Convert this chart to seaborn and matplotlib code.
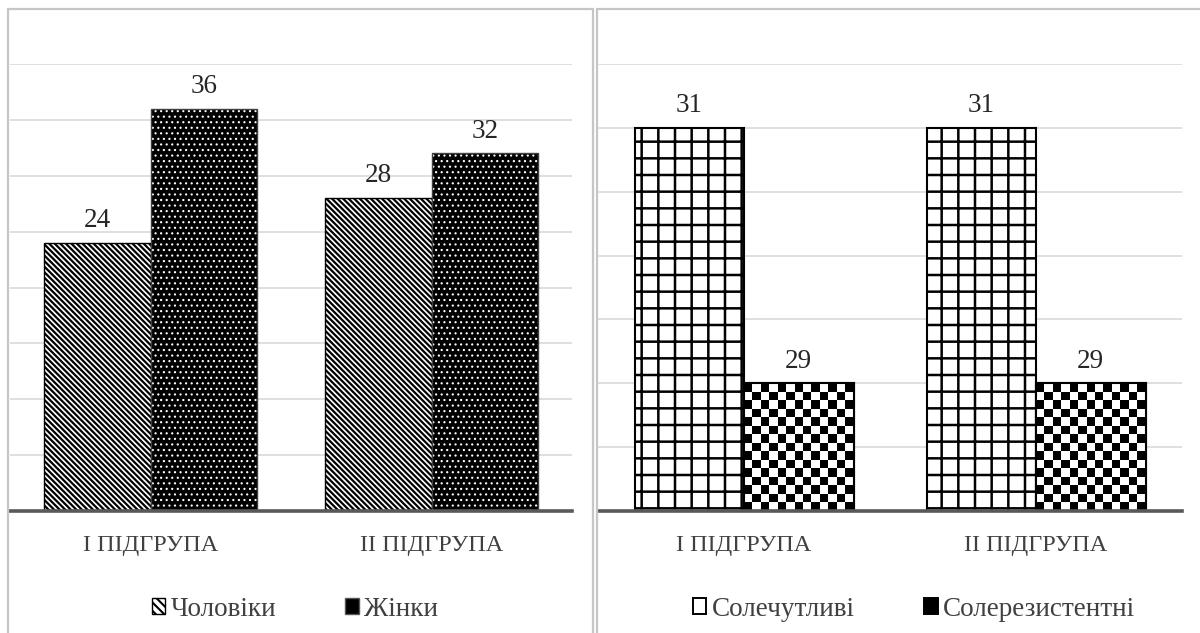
import numpy as np
import pandas as pd
import matplotlib
matplotlib.use("Agg")
import matplotlib.pyplot as plt
import seaborn as sns
from matplotlib.patches import Rectangle, Patch
from matplotlib.lines import Line2D
from matplotlib.colors import ListedColormap

# ---------------- data ----------------
groups = ["І ПІДГРУПА", "ІІ ПІДГРУПА"]
sex_labels = ["Чоловіки", "Жінки"]
men = [24, 28]
women = [36, 32]
salt_labels = ["Солечутливі", "Солерезистентні"]
sensitive = [31, 31]
resistant = [29, 29]

sns.set_theme(style="white")
plt.rcParams["font.family"] = ["Liberation Serif", "DejaVu Serif"]
plt.rcParams["hatch.linewidth"] = 1.5

W, H = 1200, 633
fig = plt.figure(figsize=(W / 100, H / 100), dpi=100)
fig.patch.set_facecolor("white")


def fx(px):
    return px / W


def fy(py):
    return 1 - py / H


FRAME = "#c6c6c6"
for xs, ys in [([8, 8], [9, 700]), ([8, 593], [9, 9]), ([593, 593], [9, 700]),
               ([597, 597], [9, 700]), ([597, 1300], [9, 9])]:
    fig.add_artist(Line2D([fx(v) for v in xs], [fy(v) for v in ys],
                          transform=fig.transFigure, color=FRAME, lw=1.6))

ax1 = fig.add_axes([fx(10), fy(511), fx(572) - fx(10), fy(64) - fy(511)])
ax2 = fig.add_axes([fx(598), fy(511), fx(1182) - fx(598), fy(64) - fy(511)])

df1 = pd.DataFrame({
    "group": groups * 2,
    "series": [sex_labels[0]] * len(groups) + [sex_labels[1]] * len(groups),
    "value": men + women,
})
df2 = pd.DataFrame({
    "group": groups * 2,
    "series": [salt_labels[0]] * len(groups) + [salt_labels[1]] * len(groups),
    "value": sensitive + resistant,
})

sns.barplot(data=df1, x="group", y="value", hue="series", ax=ax1, width=0.76,
            palette=["white", "black"], saturation=1, edgecolor="black",
            linewidth=1.0, legend=False, errorbar=None)
sns.barplot(data=df2, x="group", y="value", hue="series", ax=ax2, width=0.75,
            palette=["white", "black"], saturation=1, edgecolor="black",
            linewidth=1.5, legend=False, errorbar=None)

ax1.set_ylim(0, 40)
ax1.set_yticks(np.arange(0, 41, 5))
ax2.set_ylim(28, 31.5)
ax2.set_yticks(np.arange(28, 31.51, 0.5))

# patterns
for p in ax1.containers[0]:
    p.set_hatch("\\" * 6)
    if hasattr(p, "set_hatch_linewidth"):
        p.set_hatch_linewidth(1.6)
for p in ax1.containers[1]:
    p.set_facecolor("black")
    p.set_hatch("...")
    p.set_edgecolor("#404040")
    p._hatch_color = (1, 1, 1, 1)
    if hasattr(p, "set_hatch_linewidth"):
        p.set_hatch_linewidth(0.8)
for p in ax2.containers[0]:
    p.set_hatch("+")
    if hasattr(p, "set_hatch_linewidth"):
        p.set_hatch_linewidth(1.8)

FS = 19.5
TEXT = "#404040"
for ax in (ax1, ax2):
    ax.set_axisbelow(True)
    ax.grid(axis="y", color="#d9d9d9", lw=1.2)
    ax.grid(axis="x", visible=False)
    for s in ("top", "left", "right"):
        ax.spines[s].set_visible(False)
    ax.spines["bottom"].set_color("#595959")
    ax.spines["bottom"].set_linewidth(2.6)
    ax.set_xlabel("")
    ax.set_ylabel("")
    ax.tick_params(axis="y", left=False, labelleft=False)
    ax.tick_params(axis="x", length=0, pad=17, labelsize=17.5, labelcolor=TEXT)
    ax.set_facecolor("none")
    for c in ax.containers:
        ax.bar_label(c, fmt="%g", padding=7, fontsize=FS, color="#262626")

# checkerboard fill for the second series of the right panel (vector mesh)
fig.canvas.draw()
y0 = ax2.get_ylim()[0]
xl = ax2.get_xlim()
CELL = 8.5
for p in ax2.containers[1]:
    x0, w, top = p.get_x(), p.get_width(), p.get_height()
    (px0, py0) = ax2.transData.transform((x0, y0))
    (px1, py1) = ax2.transData.transform((x0 + w, top))
    nx = max(1, int(round((px1 - px0) / CELL)))
    cell_y = CELL * (top - y0) / (py1 - py0)
    ny = int(np.ceil((py1 - py0) / CELL))
    xe = np.linspace(x0, x0 + w, nx + 1)
    ye = top - np.arange(ny + 1) * cell_y
    board = np.add.outer(np.arange(ny), np.arange(nx)) % 2
    ax2.pcolormesh(xe, ye, board, cmap=ListedColormap(["black", "white"]),
                   shading="flat", antialiased=False, linewidth=0,
                   zorder=p.get_zorder() + 0.05)
    ax2.add_patch(Rectangle((x0, y0), w, top - y0, fill=False,
                            edgecolor="black", lw=1.5,
                            zorder=p.get_zorder() + 0.1))
ax2.set_xlim(xl)
ax2.set_ylim(28, 31.5)

# legends
h1 = [Patch(facecolor="white", edgecolor="black", hatch="\\\\\\\\", lw=1),
      Patch(facecolor="black", edgecolor="#555555", lw=1)]
h2 = [Patch(facecolor="white", edgecolor="black", lw=1.4),
      Patch(facecolor="black", edgecolor="black", lw=1.4)]
for ax, handles, labels, cx in [(ax1, h1, sex_labels, 295), (ax2, h2, salt_labels, 914)]:
    fig.legend(handles, labels, loc="center", bbox_to_anchor=(fx(cx), fy(609)),
               ncol=2, frameon=False, fontsize=FS, labelcolor=TEXT,
               handlelength=0.5, handleheight=0.5, handletextpad=0.2,
               columnspacing=2.55, borderaxespad=0)

fig.savefig("out.png", dpi=100, facecolor="white")
